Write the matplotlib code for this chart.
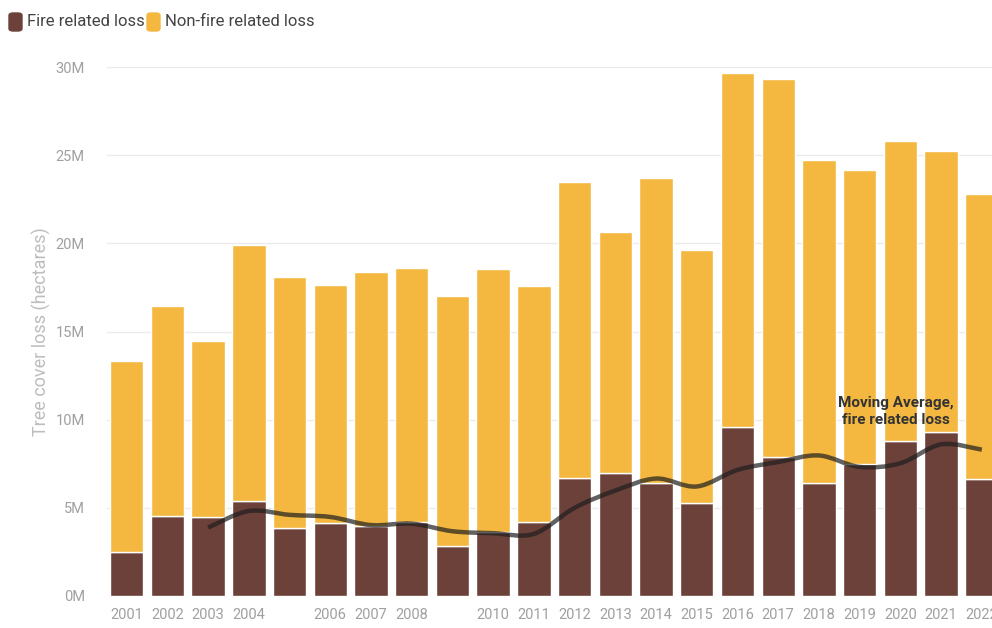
import numpy as np
import matplotlib
matplotlib.use('Agg')
import matplotlib.pyplot as plt
from matplotlib.path import Path
from matplotlib.patches import PathPatch, FancyBboxPatch

plt.rcParams['font.family'] = ['Roboto', 'DejaVu Sans']

years = list(range(2001, 2023))
# values in millions of hectares
total_loss = [13.35, 16.45, 14.47, 19.9, 18.1, 17.63, 18.38, 18.61, 17.0, 18.55, 17.57,
              23.51, 20.63, 23.72, 19.61, 29.66, 29.35, 24.74, 24.17, 25.8, 25.25, 22.81]
fire_loss = [2.49, 4.53, 4.5, 5.37, 3.88, 4.14, 3.95, 4.19, 2.83, 3.63, 4.18,
             6.67, 6.96, 6.39, 5.26, 9.57, 7.88, 6.39, 7.51, 8.81, 9.28, 6.66]
nonfire_loss = [t - f for t, f in zip(total_loss, fire_loss)]
# moving average of fire related loss, starts at 2003
ma_years = list(range(2003, 2023))
ma_fire = [3.88, 4.82, 4.6, 4.48, 4.02, 4.1, 3.67, 3.56, 3.52, 5.0, 5.98, 6.66,
           6.21, 7.15, 7.6, 7.97, 7.32, 7.53, 8.6, 8.3]
hidden_labels = [2005, 2009]

fire_color = '#6b413a'
nonfire_color = '#f4b840'

fig = plt.figure(figsize=(9.92, 6.28), dpi=100)
ax = fig.add_axes([107 / 992, 1 - 595.9 / 628, 1 - 107 / 992, (595.9 - 67.3) / 628])

x = np.arange(len(years))
ax.bar(x, fire_loss, width=0.82, color=fire_color, edgecolor='white', linewidth=1.0, zorder=2)
ax.bar(x, nonfire_loss, bottom=fire_loss, width=0.82, color=nonfire_color,
       edgecolor='white', linewidth=1.0, zorder=2)

# smooth moving-average curve (Catmull-Rom drawn as Bezier segments)
mx = np.array([years.index(y) for y in ma_years], dtype=float)
my = np.array(ma_fire)
verts = [(mx[0], my[0])]
codes = [Path.MOVETO]
n = len(mx)
for i in range(n - 1):
    p0 = (mx[max(i - 1, 0)], my[max(i - 1, 0)])
    p1 = (mx[i], my[i])
    p2 = (mx[i + 1], my[i + 1])
    p3 = (mx[min(i + 2, n - 1)], my[min(i + 2, n - 1)])
    c1 = (p1[0] + (p2[0] - p0[0]) / 6, p1[1] + (p2[1] - p0[1]) / 6)
    c2 = (p2[0] - (p3[0] - p1[0]) / 6, p2[1] - (p3[1] - p1[1]) / 6)
    verts += [c1, c2, p2]
    codes += [Path.CURVE4] * 3
ax.add_patch(PathPatch(Path(verts, codes), facecolor='none', edgecolor='#1e1e1e',
                       linewidth=3.2, alpha=0.7, zorder=3, capstyle='butt'))

ax.text(years.index(2020) - 0.1, 10.45, 'Moving Average,\nfire related loss', ha='center',
        va='center', fontsize=11, fontweight='bold', color='#333333', linespacing=1.3,
        zorder=4)

ax.set_xlim(-0.484, 21.25)
ax.set_ylim(0, 30)
ax.set_yticks([0, 5, 10, 15, 20, 25, 30])
ax.set_yticklabels(['%dM' % v for v in [0, 5, 10, 15, 20, 25, 30]])
ax.set_xticks(x)
ax.set_xticklabels(['' if y in hidden_labels else str(y) for y in years])
ax.grid(axis='y', color='#ebebeb', linewidth=1.0, zorder=0)
ax.set_axisbelow(True)
for s in ax.spines.values():
    s.set_visible(False)
ax.tick_params(axis='both', length=0, colors='#a0a0a0', labelsize=10.5)
ax.tick_params(axis='y', pad=16)
ax.tick_params(axis='x', pad=9)
ax.set_ylabel('Tree cover loss (hectares)', fontsize=13, color='#bdbdbd', labelpad=3)

# legend at top left
fig.patches.append(FancyBboxPatch((9 / 992, 1 - 31 / 628), 13 / 992, 18 / 628,
                                  boxstyle='round,pad=0,rounding_size=0.004',
                                  transform=fig.transFigure, color=fire_color))
fig.text(27 / 992, 1 - 22 / 628, 'Fire related loss', fontsize=12, color='#444444',
         va='center', ha='left')
fig.patches.append(FancyBboxPatch((147 / 992, 1 - 31 / 628), 13 / 992, 18 / 628,
                                  boxstyle='round,pad=0,rounding_size=0.004',
                                  transform=fig.transFigure, color=nonfire_color))
fig.text(165 / 992, 1 - 22 / 628, 'Non-fire related loss', fontsize=12, color='#444444',
         va='center', ha='left')

fig.savefig('out.png', dpi=100)
